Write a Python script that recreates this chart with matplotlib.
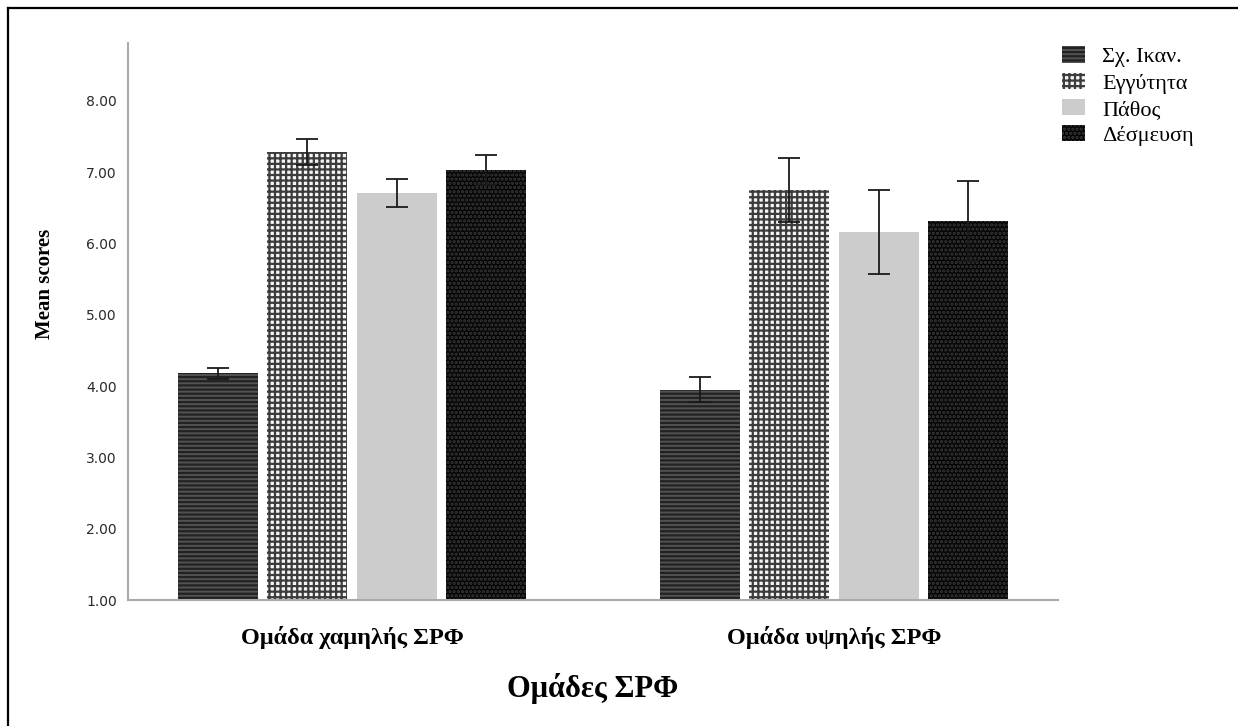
import matplotlib
matplotlib.use("Agg")
import matplotlib.pyplot as plt
import numpy as np
from matplotlib.lines import Line2D

plt.rcParams['hatch.linewidth'] = 1.6

groups = ["Ομάδα χαμηλής ΣΡΦ", "Ομάδα υψηλής ΣΡΦ"]
series = ["Σχ. Ικαν.", "Εγγύτητα", "Πάθος", "Δέσμευση"]
means = {
    "Σχ. Ικαν.": [4.18, 3.95],
    "Εγγύτητα": [7.28, 6.75],
    "Πάθος": [6.71, 6.16],
    "Δέσμευση": [7.03, 6.31],
}
errors = {
    "Σχ. Ικαν.": [0.08, 0.18],
    "Εγγύτητα": [0.18, 0.45],
    "Πάθος": [0.20, 0.59],
    "Δέσμευση": [0.21, 0.56],
}
yticks = [1, 2, 3, 4, 5, 6, 7, 8]

styles = {
    "Σχ. Ικαν.": dict(facecolor="#525252", edgecolor="#222222", hatch="----"),
    "Εγγύτητα": dict(facecolor="#f4f4f4", edgecolor="#3c3c3c", hatch="+++"),
    "Πάθος": dict(facecolor="#cccccc", edgecolor="#cccccc", hatch=None),
    "Δέσμευση": dict(facecolor="#050505", edgecolor="#383838", hatch="...."),
}

fig = plt.figure(figsize=(12.38, 7.26), dpi=100)
ax = fig.add_axes([128/1238, 1 - 600/726, (1058-128)/1238, (600-43)/726])

x = np.arange(len(groups))
step = 0.185
width = 0.166
offsets = (np.arange(len(series)) - 1.5) * step

for i, s in enumerate(series):
    st = styles[s]
    ax.bar(x + offsets[i], np.array(means[s]) - 1, width=width, bottom=1,
           facecolor=st["facecolor"], edgecolor=st["edgecolor"], hatch=st["hatch"],
           linewidth=0, label=s, zorder=2)
    ax.errorbar(x + offsets[i], means[s], yerr=errors[s], fmt='none',
                ecolor="#1a1a1a", elinewidth=1.3, capsize=8, capthick=1.3, zorder=3)

ax.set_ylim(1, 8.81)
ax.set_xlim(-0.465, 1.465)
ax.set_yticks(yticks)
ax.set_yticklabels([f"{v:.2f}" for v in yticks], fontsize=10, color="#2a2a2a",
                   family="DejaVu Sans")
ax.set_xticks(x)
ax.set_xticklabels(groups, fontsize=17.5, fontweight="bold", family="Liberation Serif")
ax.tick_params(axis='y', length=0, pad=8)
ax.tick_params(axis='x', length=0, pad=19)

for sp in ["top", "right"]:
    ax.spines[sp].set_visible(False)
for sp in ["left", "bottom"]:
    ax.spines[sp].set_color("#aaaaaa")
    ax.spines[sp].set_linewidth(1.5)

ax.set_ylabel("Mean scores", fontsize=15, fontweight="bold", family="Liberation Serif")
ax.yaxis.set_label_coords(-0.078, 0.567)
ax.set_xlabel("Ομάδες ΣΡΦ", fontsize=22, fontweight="bold", family="Liberation Serif",
              labelpad=17)

leg = ax.legend(loc="upper left", bbox_to_anchor=(1058/1238, 1 - 42/726),
                bbox_transform=fig.transFigure, frameon=False,
                prop=dict(family="Liberation Serif", size=16),
                handlelength=1.0, handleheight=0.77, labelspacing=0.23,
                handletextpad=0.8, borderaxespad=0, borderpad=0.2)

# figure frame (top and left visible)
fig.add_artist(Line2D([7.5/1238, 7.5/1238], [0, 1 - 7.5/726], transform=fig.transFigure,
                      color="black", linewidth=1.6))
fig.add_artist(Line2D([7.5/1238, 1], [1 - 7.5/726, 1 - 7.5/726], transform=fig.transFigure,
                      color="black", linewidth=1.6))

fig.savefig("out.png", dpi=100)
